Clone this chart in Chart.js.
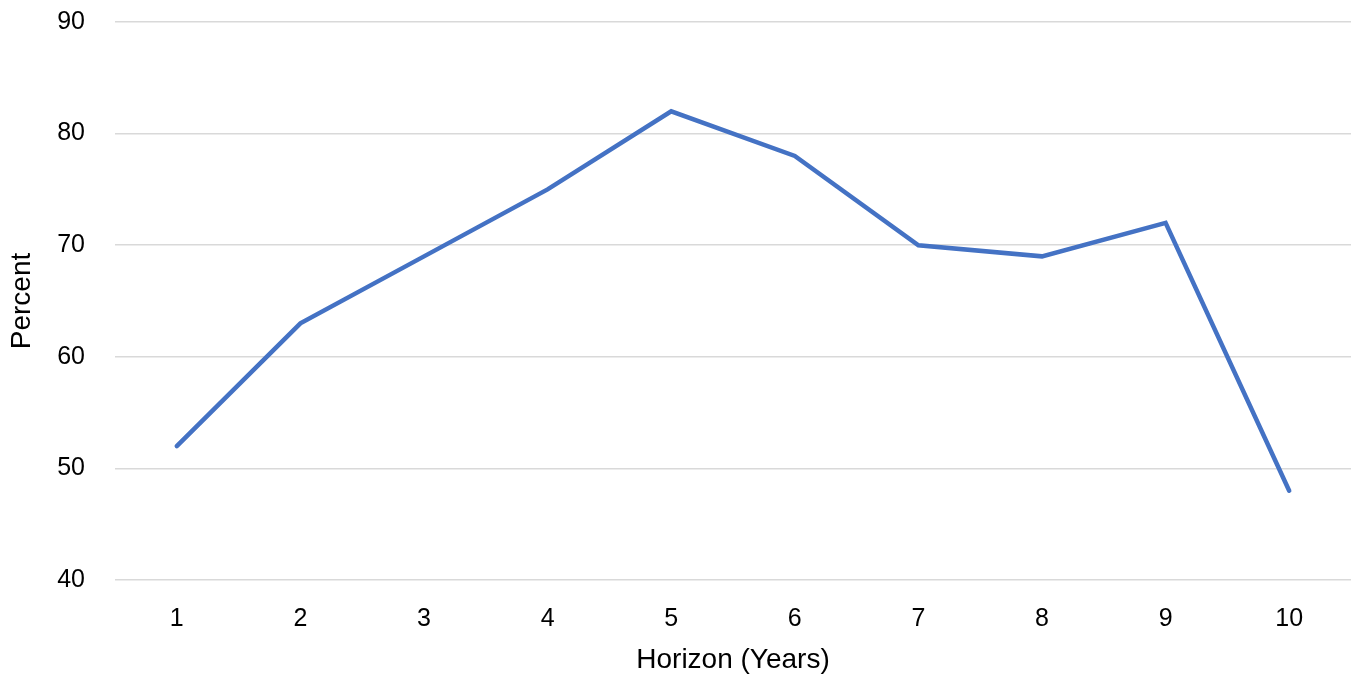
<!DOCTYPE html>
<html>
<head>
<meta charset="utf-8">
<script src="https://cdn.jsdelivr.net/npm/chart.js@4"></script>
<style>
html,body{margin:0;padding:0;background:#fff;}
#wrap{width:1352px;height:677px;position:relative;}
</style>
</head>
<body>
<div id="wrap"><canvas id="c" width="1352" height="677"></canvas></div>
<script>
const categories = ['1','2','3','4','5','6','7','8','9','10'];
const percentValues = [52, 63, 69, 75, 82, 78, 70, 69, 72, 48];
const yTicks = [40, 50, 60, 70, 80, 90];

const FONT = '"Liberation Sans", Arial, sans-serif';

new Chart(document.getElementById('c'), {
  type: 'line',
  data: {
    labels: categories,
    datasets: [{
      label: 'Percent',
      data: percentValues,
      borderColor: '#4472C4',
      backgroundColor: '#4472C4',
      borderWidth: 4.5,
      pointRadius: 0,
      tension: 0,
      borderCapStyle: 'round',
      borderJoinStyle: 'miter'
    }]
  },
  options: {
    responsive: false,
    animation: false,
    layout: { padding: { top: 22, right: 1, left: 0, bottom: 0 } },
    plugins: { legend: { display: false }, tooltip: { enabled: false } },
    scales: {
      x: {
        offset: true,
        grid: { display: false, drawTicks: false },
        border: { display: false },
        ticks: { color: '#000', font: { family: FONT, size: 25 }, padding: 24 },
        title: { display: true, text: 'Horizon (Years)', color: '#000', font: { family: FONT, size: 28 }, padding: { top: 4, bottom: 0 } },
        afterFit: (s) => { s.height = 97; s.paddingLeft = 0; s.paddingRight = 0; }
      },
      y: {
        min: 40, max: 90,
        afterBuildTicks: (s) => { s.ticks = yTicks.map(v => ({ value: v })); },
        grid: { color: '#d9d9d9', lineWidth: 1.5, drawTicks: false },
        border: { display: false },
        ticks: { color: '#000', font: { family: FONT, size: 25 }, padding: 30 },
        title: { display: true, text: 'Percent', color: '#000', font: { family: FONT, size: 28 }, padding: { top: 5, bottom: 0 } },
        afterFit: (s) => { s.width = 115; s.paddingTop = 0; s.paddingBottom = 0; }
      }
    }
  }
});
</script>
</body>
</html>
